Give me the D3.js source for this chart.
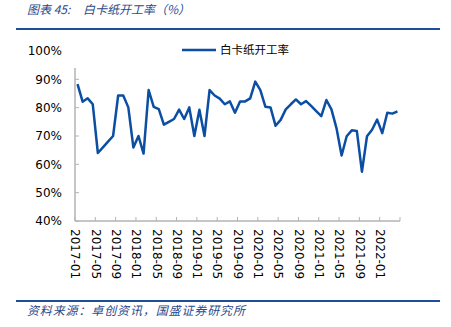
<!DOCTYPE html>
<html>
<head>
<meta charset="utf-8">
<script src="https://cdn.jsdelivr.net/npm/d3@7"></script>
<style>
html,body{margin:0;padding:0;background:#fff;}
svg{display:block;}
</style>
</head>
<body>
<svg id="chart" width="451" height="327"></svg>
<script>
const months = [
"2017-01","2017-02","2017-03","2017-04","2017-05","2017-06","2017-07","2017-08","2017-09","2017-10","2017-11","2017-12",
"2018-01","2018-02","2018-03","2018-04","2018-05","2018-06","2018-07","2018-08","2018-09","2018-10","2018-11","2018-12",
"2019-01","2019-02","2019-03","2019-04","2019-05","2019-06","2019-07","2019-08","2019-09","2019-10","2019-11","2019-12",
"2020-01","2020-02","2020-03","2020-04","2020-05","2020-06","2020-07","2020-08","2020-09","2020-10","2020-11","2020-12",
"2021-01","2021-02","2021-03","2021-04","2021-05","2021-06","2021-07","2021-08","2021-09","2021-10","2021-11","2021-12",
"2022-01","2022-02","2022-03","2022-04"];
const rate = [
88.3,82.1,83.3,81.2,64.0,66.0,68.0,70.0,84.3,84.3,80.1,65.9,
70.0,63.8,86.2,80.3,79.5,74.0,75.0,76.0,79.3,76.0,80.1,70.0,
79.3,70.0,86.2,84.3,83.2,81.2,82.2,78.2,82.2,82.2,83.3,89.2,
86.2,80.3,80.1,73.6,75.7,79.4,81.2,82.9,81.2,82.3,80.6,78.8,
77.0,82.7,79.4,72.7,63.1,69.9,72.0,71.8,57.4,69.9,72.2,75.8,
71.0,78.2,77.9,78.7];
const xTickLabels = ["2017-01","2017-05","2017-09","2018-01","2018-05","2018-09","2019-01","2019-05","2019-09","2020-01","2020-05","2020-09","2021-01","2021-05","2021-09","2022-01"];
const yTicks = [40,50,60,70,80,90,100];
const seriesName = "白卡纸开工率";
const titleLead = "图表 45:";
const titleMain = "白卡纸开工率（%）";
const sourceText = "资料来源：卓创资讯，国盛证券研究所";

const svg = d3.select("#chart");
const blue = "#0b4ea2";
const axisGray = "#b3b3b3";
const noteBlue = "#2a4a8c";

const x = d3.scaleLinear().domain([0, months.length]).range([75, 400]);
const y = d3.scaleLinear().domain([40, 100]).range([221, 51]);

// title
const title = svg.append("text").attr("y", 14)
  .attr("font-family", "'Noto Sans CJK SC', sans-serif").attr("font-size", 12)
  .attr("font-style", "italic").attr("fill", noteBlue);
title.append("tspan").attr("x", 27).text(titleLead);
title.append("tspan").attr("x", 83).text(titleMain);
svg.append("line").attr("x1", 16).attr("x2", 440).attr("y1", 29).attr("y2", 29)
  .attr("stroke", "#1f4e9a").attr("stroke-width", 2);

// bottom rule + source
svg.append("line").attr("x1", 16).attr("x2", 440).attr("y1", 301).attr("y2", 301)
  .attr("stroke", "#1f4e9a").attr("stroke-width", 2);
svg.append("text").attr("x", 27).attr("y", 315)
  .attr("textLength", 218).attr("lengthAdjust", "spacing")
  .attr("font-family", "'Noto Sans CJK SC', sans-serif").attr("font-size", 12)
  .attr("font-style", "italic").attr("fill", noteBlue).text(sourceText);

// y labels
svg.append("g").selectAll("text").data(yTicks).join("text")
  .attr("x", 62).attr("y", d => y(d)).attr("dy", "0.35em")
  .attr("text-anchor", "end").attr("font-family", "'DejaVu Sans', sans-serif")
  .attr("font-size", 12).attr("fill", "#000").text(d => d + "%");

// y axis line and inner ticks
svg.append("line").attr("x1", 75).attr("x2", 75).attr("y1", 68).attr("y2", y(40))
  .attr("stroke", axisGray).attr("stroke-width", 1.5);
svg.append("g").selectAll("line").data(yTicks.filter(d => d < 100)).join("line")
  .attr("x1", 75).attr("x2", 79).attr("y1", d => y(d)).attr("y2", d => y(d))
  .attr("stroke", axisGray).attr("stroke-width", 1);

// x axis line and inner ticks
const tickIdx = d3.range(0, months.length + 1, 4);
svg.append("line").attr("x1", 75).attr("x2", 400).attr("y1", y(40)).attr("y2", y(40))
  .attr("stroke", axisGray).attr("stroke-width", 1.5);
svg.append("g").selectAll("line").data(tickIdx).join("line")
  .attr("x1", d => x(d)).attr("x2", d => x(d)).attr("y1", y(40) - 4).attr("y2", y(40))
  .attr("stroke", axisGray).attr("stroke-width", 1);

// x labels (rotated)
svg.append("g").selectAll("text").data(xTickLabels).join("text")
  .attr("transform", d => `translate(${x(months.indexOf(d)) + 0.5},${229}) rotate(90)`)
  .attr("dy", "0.35em").attr("text-anchor", "start")
  .attr("font-family", "'DejaVu Sans', sans-serif").attr("font-size", 12)
  .attr("fill", "#000").text(d => d);

// line
const line = d3.line().x((d, i) => x(i + 0.5)).y(d => y(d));
svg.append("path").datum(rate).attr("d", line)
  .attr("fill", "none").attr("stroke", blue).attr("stroke-width", 2.5)
  .attr("stroke-linejoin", "round");

// legend
svg.append("line").attr("x1", 182).attr("x2", 216).attr("y1", 50).attr("y2", 50)
  .attr("stroke", blue).attr("stroke-width", 2.5);
svg.append("text").attr("x", 220).attr("y", 50).attr("dy", "0.35em")
  .attr("font-family", "'Noto Sans CJK SC', sans-serif").attr("font-size", 11.5)
  .attr("fill", "#000").text(seriesName);
</script>
</body>
</html>
